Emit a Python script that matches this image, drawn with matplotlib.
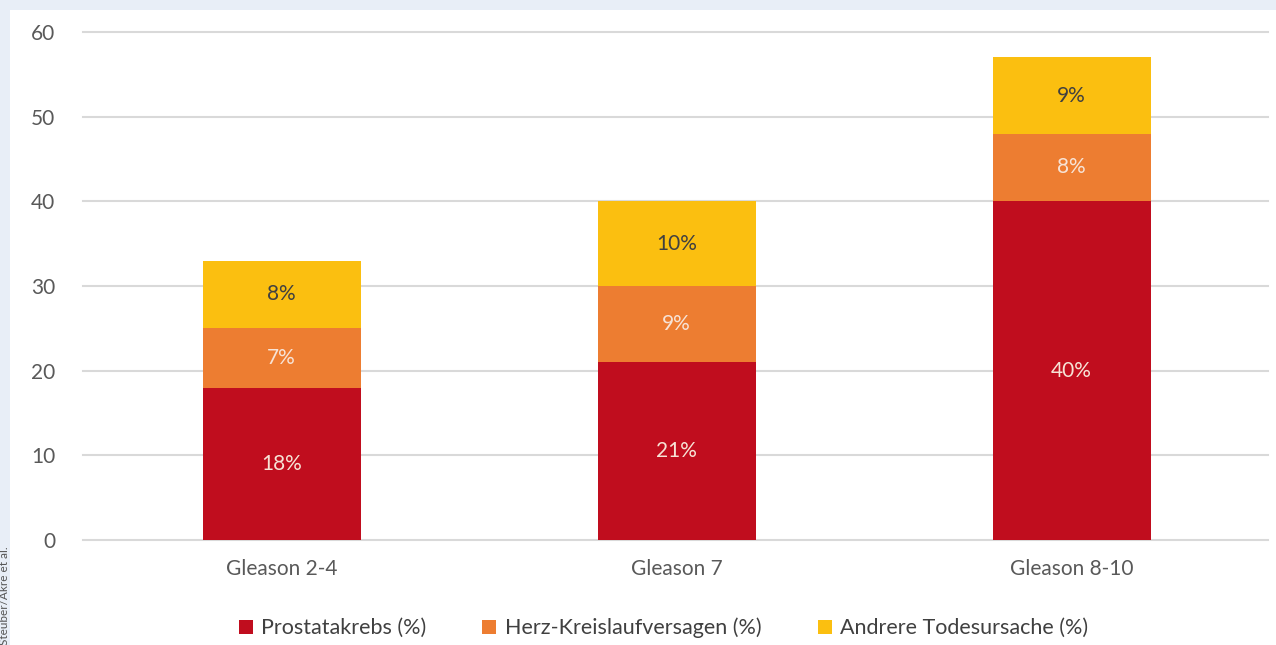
import matplotlib.pyplot as plt
from matplotlib.patches import Rectangle
import numpy as np

plt.rcParams['font.family'] = ['Lato', 'DejaVu Sans']

categories = ['Gleason 2-4', 'Gleason 7', 'Gleason 8-10']
prostata = [18, 21, 40]
herz = [7, 9, 8]
andere = [8, 10, 9]
series_names = ['Prostatakrebs (%)', 'Herz-Kreislaufversagen (%)', 'Andrere Todesursache (%)']
colors = ['#c00d1e', '#ed7d31', '#fbbf10']
label_colors = ['#f7e3d6', '#f7e3d6', '#404040']
yticks = [0, 10, 20, 30, 40, 50, 60]

fig = plt.figure(figsize=(12.76, 6.45), dpi=100, facecolor='#e8eef7')
fig.add_artist(Rectangle((10 / 1276, 0), 1, 1 - 10 / 645, transform=fig.transFigure,
                         facecolor='white', edgecolor='none', zorder=-5))

ax = fig.add_axes([83 / 1276, 1 - 540 / 645, 1185 / 1276, (540 - 32) / 645])
ax.set_facecolor('none')

x = np.arange(len(categories))
bottom = np.zeros(len(categories))
for vals, name, col, lc in zip([prostata, herz, andere], series_names, colors, label_colors):
    bars = ax.bar(x, vals, width=0.4, bottom=bottom, color=col, label=name, zorder=3)
    ax.bar_label(bars, labels=[f'{v}%' for v in vals], label_type='center',
                 color=lc, fontsize=15)
    bottom += np.array(vals)

ax.set_xlim(-0.503, 2.497)
ax.set_ylim(0, 60)
ax.set_yticks(yticks)
ax.set_xticks(x)
ax.set_xticklabels(categories)
ax.grid(axis='y', color='#d9d9d9', linewidth=1.5, zorder=0)
ax.set_axisbelow(True)
for s in ax.spines.values():
    s.set_visible(False)
ax.tick_params(axis='both', length=0, labelsize=15, colors='#595959')
ax.tick_params(axis='y', pad=20)
ax.tick_params(axis='x', pad=14)
for g in ax.get_ygridlines():
    g.set_clip_on(False)

fig.legend(loc='center', bbox_to_anchor=(0.52, 1 - 628 / 645), ncol=3, frameon=False,
           fontsize=15.5, handlelength=0.65, handleheight=0.65, handletextpad=0.4,
           columnspacing=2.6, labelcolor='#404040')

fig.text(5 / 1276, 1 - 546 / 645, 'Steuber/Akre et al.', rotation=90, fontsize=8.5,
         color='#555555', ha='center', va='top')

fig.savefig('out.png', dpi=100, facecolor=fig.get_facecolor())
